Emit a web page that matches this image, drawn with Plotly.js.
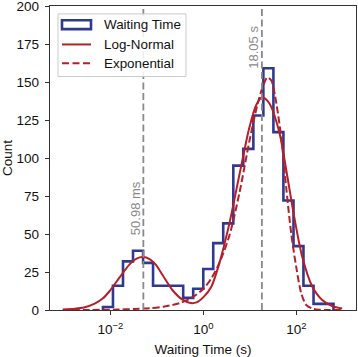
<!DOCTYPE html>
<html><head><meta charset="utf-8">
<script src="https://cdn.plot.ly/plotly-3.0.1.min.js"></script>
<style>html,body{margin:0;padding:0;background:#fff;} #chart{width:358px;height:357px;}</style>
</head><body><div id="chart"></div>
<script>
// Histogram bin edges (log10 of seconds) and counts
const binEdgesLog10 = [-2.161, -1.946, -1.730, -1.515, -1.298, -1.084, -0.867, -0.652, -0.436, -0.221,
  -0.004, 0.210, 0.425, 0.642, 0.856, 1.073, 1.288, 1.504, 1.719, 1.936, 2.150, 2.367, 2.582, 2.796];
const binCounts = [2, 16, 32, 39, 31, 16, 16, 16, 8, 14, 27, 44, 57, 95, 106, 128, 159, 117, 72, 42, 16, 4, 4];

// Log-normal fit curve (log10 seconds, count)
const logNormalXLog10 = [-3.026, -2.768, -2.554, -2.339, -2.167, -2.017, -1.803, -1.588, -1.438, -1.298,
  -1.159, -1.030, -0.880, -0.665, -0.451, -0.279, -0.150, 0.000, 0.172, 0.343, 0.558, 0.773, 0.987,
  1.137, 1.266, 1.416, 1.631, 1.803, 1.953, 2.124, 2.339, 2.554, 2.768, 2.983];
const logNormalY = [0.3, 0.8, 1.8, 4.2, 7.5, 12.5, 21.5, 30, 33.8, 34.8,
  33.5, 30, 23, 13, 6.8, 4.6, 5.0, 8.5, 15.5, 31, 57, 89, 120,
  135, 140, 136, 117, 88, 61, 35, 15.5, 6.6, 2.6, 1.0];

// Exponential fit curve (log10 seconds, count)
const expXLog10 = [-3.026, -2.446, -1.845, -1.481, -1.159, -0.837, -0.515, -0.258, 0.000, 0.172,
  0.343, 0.558, 0.773, 0.987, 1.159, 1.266, 1.373, 1.459, 1.545, 1.674, 1.781, 1.888, 1.996,
  2.103, 2.210, 2.339, 2.489, 2.704, 2.983];
const expY = [0, 0.05, 0.3, 0.7, 1.2, 2.3, 4.5, 8, 14, 21,
  31, 49, 77, 111, 135, 146, 153, 151, 140, 113, 80, 50, 28,
  11, 3.3, 1.0, 0.2, 0, 0];

// Characteristic times marked by vertical lines
const markerSeconds = [0.05098, 18.05];
const markerLabels = ['50.98 ms', '18.05 s'];
const markerLabelY = [48.5, 158];

const xTickVals = [0.01, 1, 100];
const xTickText = ['10<sup>\u22122</sup>', '10<sup>0</sup>', '10<sup>2</sup>'];

const legendNames = ['Waiting Time', 'Log-Normal', 'Exponential'];

const BLUE = '#2E3A8F';
const RED = '#B51F2A';
const GRAY = '#8A8A8A';
const FONT = 'Liberation Sans, Arial, Helvetica, sans-serif';

const toSec = v => Math.pow(10, v);
const edges = binEdgesLog10.map(toSec);

// step outline: start at baseline, go over each bin, return to baseline
const histX = [edges[0]].concat(edges);
const histY = [0].concat(binCounts).concat([0]);

const traces = [
  {x: histX, y: histY, type: 'scatter', mode: 'lines', line: {shape: 'hv', color: BLUE, width: 2.6},
   name: legendNames[0], showlegend: false, hoverinfo: 'skip'},
  {x: logNormalXLog10.map(toSec), y: logNormalY, type: 'scatter', mode: 'lines',
   line: {shape: 'spline', smoothing: 0.8, color: RED, width: 2}, name: legendNames[1], showlegend: false},
  {x: expXLog10.map(toSec), y: expY, type: 'scatter', mode: 'lines',
   line: {shape: 'spline', smoothing: 0.8, color: RED, width: 2, dash: '7px,3px'}, name: legendNames[2], showlegend: false}
];
markerSeconds.forEach((s) => {
  traces.push({x: [s, s], y: [0, 200], type: 'scatter', mode: 'lines',
    line: {color: GRAY, width: 1.8, dash: '7px,3.5px'}, showlegend: false, hoverinfo: 'skip'});
});

const annotations = markerSeconds.map((s, i) => ({
  x: Math.log10(s), y: markerLabelY[i], xref: 'x', yref: 'y', text: markerLabels[i],
  textangle: -90, xanchor: 'right', yanchor: 'bottom', showarrow: false,
  font: {family: FONT, size: 13, color: GRAY}, borderpad: 0
}));

// Legend (drawn in paper coordinates)
const legTextX = 0.17;
const legRows = [0.9389, 0.8735, 0.8114];
legendNames.forEach((n, i) => {
  annotations.push({x: legTextX, y: legRows[i], xref: 'paper', yref: 'paper', text: n,
    xanchor: 'left', yanchor: 'middle', showarrow: false, font: {family: FONT, size: 13.4, color: '#111'}});
});
const shapes = [
  {type: 'rect', xref: 'paper', yref: 'paper', x0: 0.0261, x1: 0.4444, y0: 0.768, y1: 0.9739,
   fillcolor: 'rgba(255,255,255,0.85)', line: {color: '#CCCCCC', width: 1}, layer: 'above'},
  {type: 'rect', xref: 'paper', yref: 'paper', x0: 0.0392, x1: 0.134, y0: 0.9239, y1: 0.9533,
   fillcolor: 'rgba(255,255,255,0)', line: {color: BLUE, width: 2.6}, layer: 'above'},
  {type: 'line', xref: 'paper', yref: 'paper', x0: 0.0392, x1: 0.134, y0: legRows[1], y1: legRows[1],
   line: {color: RED, width: 2}, layer: 'above'},
  {type: 'line', xref: 'paper', yref: 'paper', x0: 0.0392, x1: 0.134, y0: legRows[2], y1: legRows[2],
   line: {color: RED, width: 2, dash: '7px,3.5px'}, layer: 'above'}
];

const layout = {
  width: 358, height: 357,
  margin: {l: 50, r: 2, t: 6, b: 47, pad: 0},
  paper_bgcolor: '#fff', plot_bgcolor: '#fff',
  font: {family: FONT, size: 13.5, color: '#111'},
  showlegend: false,
  xaxis: {type: 'log', range: [-3.3, 3.28], tickvals: xTickVals, ticktext: xTickText,
    ticks: 'outside', ticklen: 4, tickwidth: 1, tickcolor: '#333', ticklabelstandoff: 3,
    showline: true, mirror: true, linecolor: '#333', linewidth: 1.2, showgrid: false, zeroline: false,
    title: {text: 'Waiting Time (s)', font: {family: FONT, size: 13.5, color: '#111'}, standoff: 8}},
  yaxis: {range: [0, 200], dtick: 25, tick0: 0, ticklabeloverflow: 'allow',
    ticks: 'outside', ticklen: 4, tickwidth: 1, tickcolor: '#333', ticklabelstandoff: 3,
    showline: true, mirror: true, linecolor: '#333', linewidth: 1.2, showgrid: false, zeroline: false,
    title: {text: 'Count', font: {family: FONT, size: 13.5, color: '#111'}, standoff: 6}},
  annotations: annotations,
  shapes: shapes
};

Plotly.newPlot('chart', traces, layout, {staticPlot: true, displayModeBar: false});
</script>
</body></html>
